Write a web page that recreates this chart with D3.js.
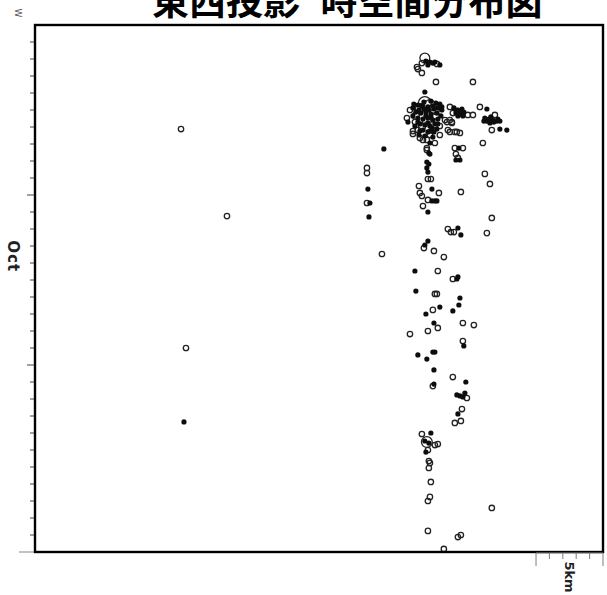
<!DOCTYPE html>
<html>
<head>
<meta charset="utf-8">
<script src="https://cdn.jsdelivr.net/npm/d3@7"></script>
<style>
  html, body { margin: 0; padding: 0; background: #fff; }
  svg { display: block; }
</style>
</head>
<body>
<svg id="chart" width="607" height="595"></svg>
<script>
// Title and axis captions
const titleText = "東西投影 時空間分布図";
const timeLabel = "Oct";
const cornerLabel = "W";
const scaleLabel = "5km";

// Time span shown on the vertical axis (one month, day ticks)
const periodStart = new Date(2000, 9, 1);
const periodEnd = new Date(2000, 10, 1);
const majorDays = [11, 21];
const scaleBarKm = 5;

// East-west extent of the projection, km
const ewExtentKm = [0, 42.4];

// Hypocentres drawn as open circles: east-west km, October day (decimal), size class
const openKm = [10.90, 14.33, 11.27, 24.78, 24.78, 24.78, 25.90, 29.10, 28.88, 30.00,
  28.51, 28.58, 28.88, 29.93, 32.69, 29.10, 29.48, 28.73, 29.85, 27.99,
  27.76, 28.36, 28.21, 28.58, 29.70, 30.22, 28.73, 29.25, 29.48, 28.43,
  29.93, 29.25, 28.88, 30.22, 30.75, 31.12, 31.19, 30.97, 30.82, 31.49,
  30.60, 30.97, 31.12, 32.31, 32.69, 33.21, 34.33, 34.10, 33.43, 30.97,
  31.34, 31.72, 28.21, 28.96, 29.85, 29.25, 31.34, 31.94, 31.57, 29.25,
  31.42, 33.58, 29.33, 29.55, 33.96, 28.66, 30.15, 28.73, 28.88, 31.79,
  29.33, 28.96, 34.10, 30.82, 31.04, 31.27, 33.73, 29.03, 29.78, 30.52,
  30.07, 31.19, 29.85, 30.00, 29.70, 31.94, 32.76, 29.33, 30.07, 27.99,
  31.94, 31.19, 29.70, 32.24, 31.87, 31.34, 31.79, 28.88, 29.25, 30.07,
  29.85, 29.33, 29.40, 29.48, 29.40, 29.55, 29.48, 29.33, 34.10, 29.33,
  31.57, 31.79, 30.52];
const openDay = [7.12, 12.24, 20.00, 9.41, 9.71, 11.47, 14.47, 2.94, 3.24, 3.29,
  3.47, 3.59, 3.82, 4.35, 4.35, 5.59, 5.71, 5.88, 6.00, 6.00,
  6.47, 6.71, 7.24, 7.18, 7.18, 7.47, 7.65, 7.76, 7.47, 6.35,
  6.35, 6.65, 7.00, 6.94, 6.71, 6.71, 6.18, 5.82, 7.18, 7.29,
  6.59, 6.59, 6.76, 6.29, 6.29, 5.82, 6.29, 7.18, 7.94, 7.29,
  7.29, 7.35, 7.41, 7.76, 7.94, 8.24, 8.24, 8.24, 8.82, 8.35,
  8.59, 9.76, 10.06, 10.06, 10.35, 10.47, 10.88, 10.88, 11.06, 10.82,
  11.29, 11.65, 12.35, 13.00, 13.18, 13.18, 13.24, 14.12, 14.29, 14.65,
  15.47, 15.94, 16.82, 16.82, 17.76, 18.53, 18.65, 19.00, 18.82, 19.18,
  19.59, 21.71, 22.24, 22.94, 23.59, 24.41, 24.29, 25.06, 25.53, 25.65,
  25.71, 26.00, 26.65, 26.76, 27.06, 27.88, 28.76, 29.00, 29.41, 30.76,
  31.12, 31.00, 31.82];
const openSize = [1, 1, 1, 1, 1, 1, 1, 2.8, 1, 1,
  1, 1, 1, 1, 1, 4, 3.2, 2.4, 2.4, 1,
  1, 1, 1, 1, 1, 1, 1, 1, 1, 1.6,
  1.6, 2.4, 1.6, 1, 1, 1, 1, 1, 1, 1,
  1, 1, 1, 1, 1, 1, 1, 1, 1, 1,
  1, 1, 1, 1, 1, 1, 1, 1, 1, 1,
  1, 1, 1, 1, 1, 1, 1, 1, 1, 1,
  1, 1, 1, 1, 1, 1, 1, 1, 1, 1,
  1, 1, 1, 1, 1, 1, 1, 1, 1, 1,
  1, 1, 1, 1, 1, 1, 1, 1, 3.2, 1,
  1, 1, 1, 1, 1, 1, 1, 1, 1, 1,
  1, 1, 1];

// Hypocentres drawn as solid dots: east-west km, October day (decimal)
const solidKm = [11.12, 26.04, 24.85, 25.00, 24.93, 29.48, 29.70, 29.10, 27.84, 28.58,
  28.88, 29.33, 29.70, 30.07, 28.43, 28.81, 29.18, 29.55, 30.00, 30.37,
  28.58, 28.96, 29.33, 29.70, 30.07, 28.73, 29.10, 29.48, 29.85, 28.96,
  29.33, 29.63, 29.10, 30.37, 31.27, 31.57, 31.87, 31.42, 31.72, 32.01,
  31.57, 31.94, 33.73, 33.58, 33.88, 34.18, 34.48, 33.73, 34.03, 34.70,
  33.96, 34.70, 35.22, 29.48, 29.40, 31.64, 29.48, 31.42, 31.72, 29.25,
  29.40, 29.25, 29.33, 29.63, 29.63, 29.85, 30.00, 29.33, 31.57, 31.79,
  29.33, 29.10, 28.36, 31.49, 31.57, 28.43, 31.72, 31.64, 30.22, 31.19,
  29.18, 29.78, 32.01, 29.70, 29.85, 28.58, 29.25, 29.78, 32.16, 29.78,
  31.49, 31.72, 31.94, 32.09, 31.57, 29.55, 29.10, 29.40, 29.18,
  28.28, 29.03, 29.55, 29.93, 30.22, 28.21, 28.66, 29.03, 29.40, 29.78,
  28.21, 29.18, 29.55, 30.30, 28.36, 28.58, 29.33, 30.07, 28.73, 29.78,
  30.00, 29.48, 28.66, 29.70, 29.18, 29.85, 30.22, 29.33, 31.42, 31.79,
  34.25, 34.55, 33.51];
const solidDay = [24.35, 8.29, 10.65, 11.47, 12.29, 3.18, 3.24, 4.94, 6.71, 5.71,
  5.76, 5.82, 5.76, 5.88, 6.12, 6.18, 6.12, 6.24, 6.18, 6.00,
  6.47, 6.53, 6.47, 6.59, 6.53, 6.82, 6.88, 6.94, 6.82, 7.18,
  7.29, 7.06, 7.53, 5.82, 5.88, 6.00, 5.94, 6.18, 6.24, 6.12,
  6.35, 6.35, 5.94, 6.47, 6.53, 6.59, 6.65, 6.65, 6.41, 6.65,
  6.76, 7.12, 7.18, 7.94, 8.53, 8.24, 8.59, 8.94, 8.94, 9.06,
  9.18, 9.41, 9.65, 10.65, 11.35, 11.35, 11.35, 12.00, 12.94, 13.35,
  13.71, 13.94, 15.47, 15.94, 15.82, 16.65, 17.06, 17.47, 17.59, 17.82,
  18.00, 18.53, 19.88, 20.24, 20.24, 20.41, 20.65, 21.29, 22.00, 22.12,
  22.76, 22.82, 22.88, 22.65, 23.88, 25.00, 25.47, 25.59, 26.12,
  5.65, 5.53, 5.47, 5.59, 5.65, 5.88, 6.00, 5.94, 6.00, 5.94,
  6.35, 6.35, 6.41, 6.35, 6.94, 6.71, 6.76, 6.82, 7.24, 7.29,
  7.12, 7.24, 7.47, 7.59, 3.12, 3.18, 3.35, 3.35, 6.00, 6.12,
  6.71, 6.53, 6.65];

const dayToDate = d => new Date(periodStart.getTime() + (d - 1) * 864e5);

const openEvents = openKm.map((k, i) => ({ km: k, t: dayToDate(openDay[i]), size: openSize[i] }));
const solidEvents = solidKm.map((k, i) => ({ km: k, t: dayToDate(solidDay[i]) }));

const svg = d3.select("#chart");
const plot = { left: 35, top: 25, right: 603, bottom: 552 };

const x = d3.scaleLinear().domain(ewExtentKm).range([plot.left, plot.right]);
const y = d3.scaleTime().domain([periodStart, periodEnd]).range([plot.top, plot.bottom]);
const r = d3.scaleLinear().domain([1, 4]).range([2.7, 6.4]);

// Soft edge for the markers
const defs = svg.append("defs");
defs.append("filter").attr("id", "soft")
  .attr("x", "-50%").attr("y", "-50%").attr("width", "200%").attr("height", "200%")
  .append("feGaussianBlur").attr("stdDeviation", 0.65);

// Title
svg.append("text")
  .attr("x", 152).attr("y", 15)
  .attr("font-family", "'Noto Sans CJK JP', sans-serif")
  .attr("font-size", 37)
  .attr("font-weight", "bold")
  .attr("word-spacing", "12px")
  .attr("fill", "#000")
  .text(titleText);

// Corner direction mark
svg.append("text")
  .attr("transform", "translate(15,13) rotate(90)")
  .attr("text-anchor", "middle")
  .attr("font-family", "DejaVu Sans, sans-serif")
  .attr("font-size", 9)
  .attr("fill", "#555")
  .text(cornerLabel);

// Time axis: daily ticks, longer ticks on the 11th and 21st
const dayTicks = d3.timeDay.range(periodStart, periodEnd);
const yAxis = svg.append("g").attr("class", "y-axis");
yAxis.selectAll("line.tick")
  .data(dayTicks.slice(1))
  .join("line")
  .attr("x1", d => plot.left - (majorDays.includes(d.getDate()) ? 8 : 5))
  .attr("x2", plot.left)
  .attr("y1", d => y(d)).attr("y2", d => y(d))
  .attr("stroke", "#444").attr("stroke-width", 1);
yAxis.append("line")
  .attr("x1", plot.left - 16).attr("x2", plot.left)
  .attr("y1", y(periodEnd)).attr("y2", y(periodEnd))
  .attr("stroke", "#999").attr("stroke-width", 1.2);

svg.append("text")
  .attr("transform", `translate(8,${y(dayToDate(14.6))}) rotate(90)`)
  .attr("text-anchor", "middle")
  .attr("font-family", "DejaVu Sans, sans-serif")
  .attr("font-size", 15)
  .attr("font-weight", "bold")
  .attr("letter-spacing", "1px")
  .attr("fill", "#222")
  .text(timeLabel);

// Events
const marks = svg.append("g").attr("filter", "url(#soft)");
marks.selectAll("circle.open")
  .data(openEvents)
  .join("circle")
  .attr("class", "open")
  .attr("cx", d => x(d.km)).attr("cy", d => y(d.t))
  .attr("r", d => r(d.size))
  .attr("fill", "none")
  .attr("stroke", "#222").attr("stroke-width", 1.3);
marks.selectAll("circle.solid")
  .data(solidEvents)
  .join("circle")
  .attr("class", "solid")
  .attr("cx", d => x(d.km)).attr("cy", d => y(d.t))
  .attr("r", 2.6)
  .attr("fill", "#111");

// Frame
svg.append("rect")
  .attr("x", plot.left).attr("y", plot.top)
  .attr("width", plot.right - plot.left).attr("height", plot.bottom - plot.top)
  .attr("fill", "none").attr("stroke", "#000").attr("stroke-width", 2.4);

// Distance scale bar, 1 km divisions
const barKm = d3.range(ewExtentKm[1] - scaleBarKm, ewExtentKm[1] + 0.01, 1);
const bar = svg.append("g").attr("stroke", "#888").attr("stroke-width", 1.1);
bar.append("line")
  .attr("x1", x(barKm[0])).attr("x2", x(barKm[barKm.length - 1]))
  .attr("y1", plot.bottom + 1).attr("y2", plot.bottom + 1);
bar.selectAll("line.div")
  .data(barKm)
  .join("line")
  .attr("class", "div")
  .attr("x1", d => x(d)).attr("x2", d => x(d))
  .attr("y1", plot.bottom + 1)
  .attr("y2", (d, i) => plot.bottom + 1 + (i === 0 || i === barKm.length - 1 ? 13 : 6));
svg.append("text")
  .attr("transform", `translate(${x(barKm[0]) + 29},577) rotate(90)`)
  .attr("text-anchor", "middle")
  .attr("font-family", "DejaVu Sans, sans-serif")
  .attr("font-size", 13)
  .attr("font-weight", "bold")
  .attr("fill", "#222")
  .text(scaleLabel);
</script>
</body>
</html>
